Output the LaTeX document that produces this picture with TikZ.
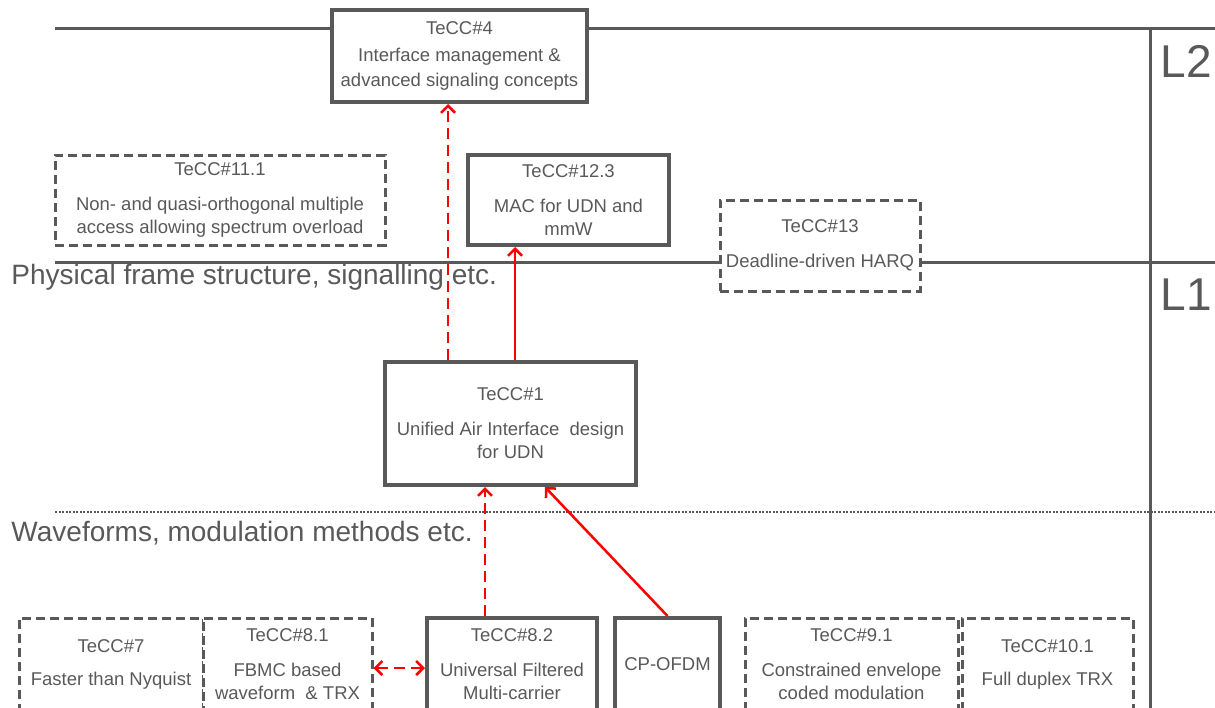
\documentclass[tikz,border=0pt]{standalone}
\usepackage{fontspec}
\setmainfont{Liberation Sans}
\usetikzlibrary{arrows.meta}
\definecolor{cgrey}{HTML}{595959}
\definecolor{cred}{HTML}{FF0000}
\tikzset{
  every picture/.style={line width=3pt},
  tecc/.style={draw=cgrey, fill=white, line width=4pt, align=center, text=cgrey, inner sep=1pt,
    font=\fontsize{18.5}{23}\selectfont},
  teccopt/.style={tecc, line width=3pt, dash pattern=on 9pt off 5pt},
  layer/.style={draw=cgrey, line width=3pt},
  bigtext/.style={text=cgrey, inner sep=0pt, font=\fontsize{28}{30}\selectfont},
  link/.style={-{Straight Barb[length=7pt, width=14pt]}, draw=cred, line width=2.5pt},
  optlink/.style={link, dash pattern=on 11pt off 6pt},
}

\begin{document}
\begin{tikzpicture}[x=1pt, y=-1pt, s/.style={minimum width=#1}]
  \path[use as bounding box, clip] (0,0) rectangle (1215,707);
  % layers
  \draw[layer] (55,28) -- (1215,28);
  \draw[layer] (55,262) -- (1215,262);
  \draw[layer] (1150,28) -- (1150,720);
  \draw[draw=cgrey, line width=2pt, dash pattern=on 2pt off 1.5pt] (55,512) -- (1215,512);
  \node[bigtext, anchor=base west, font=\fontsize{46}{46}\selectfont] (l2) at (1159,77) {L2};
  \node[bigtext, anchor=base west, font=\fontsize{46}{46}\selectfont] (l1) at (1159,310) {L1};
  \node[bigtext, anchor=base west] (phy) at (10,284) {Physical frame structure, signalling etc.};
  \node[bigtext, anchor=base west] (wav) at (10,541) {Waveforms, modulation methods etc.};
  % L2 and L1 blocks
  \node[tecc, s=255, minimum height=92, font=\fontsize{18.5}{25}\selectfont] (t4) at (459.5,56) {TeCC\#4\\[2pt]Interface management \&\\advanced signaling concepts};
  \node[teccopt, s=330, minimum height=90] (t111) at (220,200) {TeCC\#11.1\\[12pt]Non- and quasi-orthogonal multiple\\access allowing spectrum overload};
  \node[tecc, s=201, minimum height=90] (t123) at (568.5,200) {TeCC\#12.3\\[12pt]MAC for UDN and\\mmW};
  \node[teccopt, s=200, minimum height=91] (t13) at (820,245.5) {TeCC\#13\\[12pt]Deadline-driven HARQ};
  \node[tecc, s=251, minimum height=123] (t1) at (510.5,423.5) {TeCC\#1\\[12pt]Unified Air Interface\ \ design\\for UDN};
  % waveforms
  \node[teccopt, s=184, minimum height=92] (t7) at (111,664) {TeCC\#7\\[10pt]Faster than Nyquist};
  \node[teccopt, s=169, minimum height=92] (t81) at (287.5,664) {TeCC\#8.1\\[12pt]FBMC based\\waveform\ \ \& TRX};
  \node[tecc, s=170, minimum height=92] (t82) at (512,664) {TeCC\#8.2\\[12pt]Universal Filtered\\Multi-carrier};
  \node[tecc, s=105, minimum height=92] (cp) at (667.5,664) {CP-OFDM};
  \node[teccopt, s=213, minimum height=92] (t91) at (851.5,664) {TeCC\#9.1\\[12pt]Constrained envelope\\coded modulation};
  \node[teccopt, s=171, minimum height=92] (t101) at (1047.5,664) {TeCC\#10.1\\[10pt]Full duplex TRX};
  % links
  \draw[optlink] ([xshift=-62.5pt]t1.north) -- ([xshift=-62.5pt]t1.north |- t4.south);
  \draw[link] ([xshift=4.5pt]t1.north) -- ([xshift=4.5pt]t1.north |- t123.south);
  \draw[optlink] ([xshift=-27pt]t82.north) -- ([xshift=-27pt]t82.north |- t1.south);
  \draw[link] (cp.north) -- ([xshift=34.5pt]t1.south);
  \draw[optlink, {Straight Barb[length=7pt, width=14pt]}-{Straight Barb[length=7pt, width=14pt]}] ([yshift=-4pt]t81.east) -- ([yshift=-4pt]t82.west);
\end{tikzpicture}
\end{document}
